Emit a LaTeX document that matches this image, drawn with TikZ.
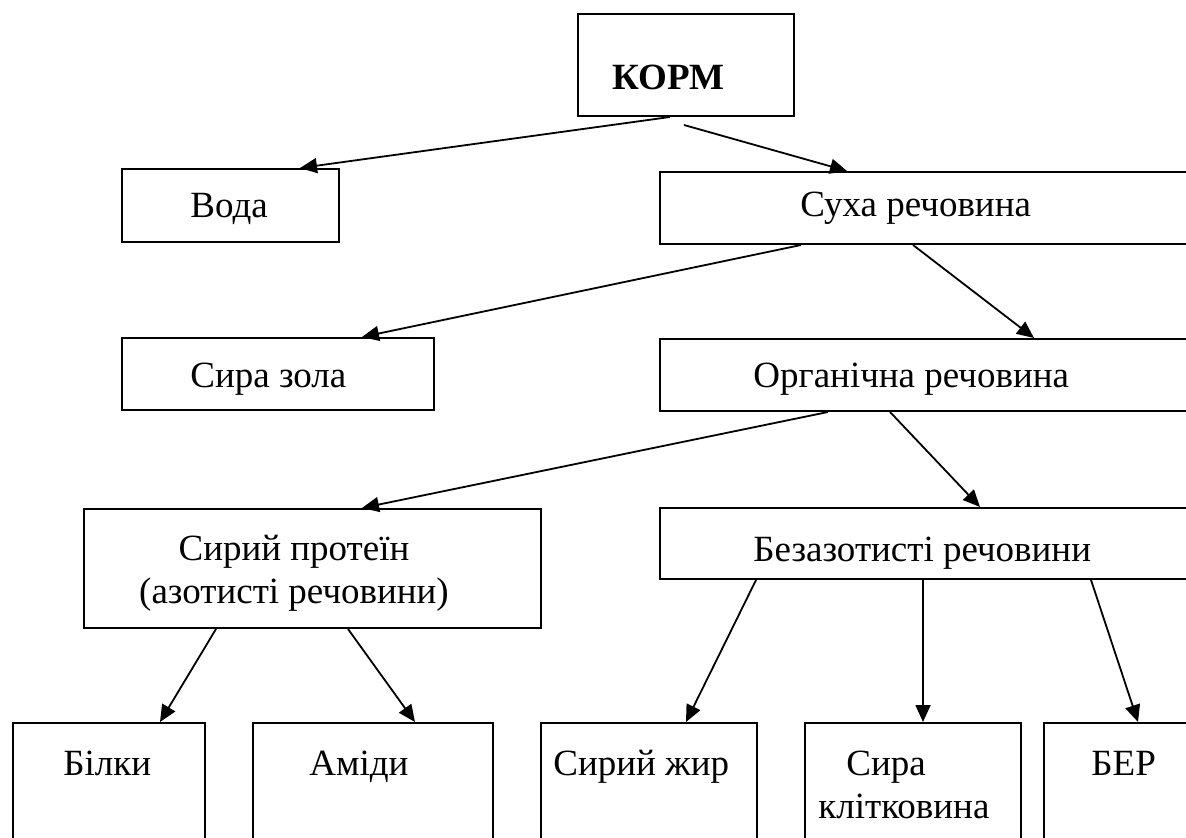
\documentclass[tikz,border=0pt]{standalone}
\usepackage{fontspec}
\setmainfont{Liberation Serif}
\usetikzlibrary{arrows.meta}

\begin{document}
\begin{tikzpicture}[
	x = 0.5pt, y = -0.5pt, % one unit = one pixel, y runs down
	> = {Triangle[length=8.5pt, width=7.5pt]}, % arrow head style
	box/.style = {draw, line width=1pt, inner sep=0pt, anchor=north west},
	txt/.style = {anchor=base west, inner sep=0pt},
	txtc/.style = {anchor=base, inner sep=0pt},
	link/.style = {->, line width=0.9pt},
	font = \fontsize{18.5}{21.5}\selectfont
	]
	
	\useasboundingbox[fill=white] (0,0) rectangle (1186,838);
	\clip (0,0) rectangle (1186,838);
	
	% boxes
	\node[box, minimum width=108pt, minimum height=51pt] (korm) at (577,13) {};
	\node[box, minimum width=108.5pt, minimum height=36.5pt] (voda) at (121,168) {};
	\node[box, minimum width=270.5pt, minimum height=36pt] (sukha) at (659,171) {};
	\node[box, minimum width=156pt, minimum height=36pt] (zola) at (121,337) {};
	\node[box, minimum width=270.5pt, minimum height=36pt] (org) at (659,338) {};
	\node[box, minimum width=228.5pt, minimum height=59.5pt] (protein) at (83,508) {};
	\node[box, minimum width=270.5pt, minimum height=35.5pt] (bezaz) at (659,507) {};
	\node[box, minimum width=96pt, minimum height=100pt] (bilky) at (12,722) {};
	\node[box, minimum width=120pt, minimum height=100pt] (amidy) at (252,722) {};
	\node[box, minimum width=108pt, minimum height=100pt] (zhyr) at (540,722) {};
	\node[box, minimum width=108pt, minimum height=100pt] (klit) at (804,722) {};
	\node[box, minimum width=80pt, minimum height=100pt] (ber) at (1043,722) {};
	
	% texts
	\node[txt] (kormt) at (612,90) {\bfseries КОРМ};
	\node[txt] (vodat) at (190,218) {Вода};
	\node[txt] (sukhat) at (800,217) {Суха речовина};
	\node[txt] (zolat) at (190,388) {Сира зола};
	\node[txt] (orgt) at (753,388) {Органічна речовина};
	\node[txtc] (proteint) at (294,560) {Сирий протеїн};
	\node[txtc] (proteint2) at (294,603) {(азотисті речовини)};
	\node[txt] (bezazt) at (753,561) {Безазотисті речовини};
	\node[txt] (bilkyt) at (63,775) {Білки};
	\node[txt] (amidyt) at (309,775) {Аміди};
	\node[txt] (zhyrt) at (553,775) {Сирий жир};
	\node[txt] (klitt) at (846,775) {Сира};
	\node[txt] (klitt2) at (818,818) {клітковина};
	\node[txt] (bert) at (1091,775) {БЕР};
	
	% arrows
	\draw[link] ([shift={(93,0)}]korm.south west) -- ([shift={(179,0)}]voda.north west);
	\draw[link] ([shift={(107,8)}]korm.south west) -- ([shift={(188,0)}]sukha.north west);
	\draw[link] ([shift={(142,0)}]sukha.south west) -- ([shift={(241,0)}]zola.north west);
	\draw[link] ([shift={(254,0)}]sukha.south west) -- ([shift={(375,0)}]org.north west);
	\draw[link] ([shift={(169,0)}]org.south west) -- ([shift={(279,0)}]protein.north west);
	\draw[link] ([shift={(231,0)}]org.south west) -- ([shift={(321,0)}]bezaz.north west);
	\draw[link] ([shift={(133,0)}]protein.south west) -- ([shift={(148,0)}]bilky.north west);
	\draw[link] ([shift={(265,0)}]protein.south west) -- ([shift={(163,0)}]amidy.north west);
	\draw[link] ([shift={(97,0)}]bezaz.south west) -- ([shift={(146,0)}]zhyr.north west);
	\draw[link] ([shift={(264,0)}]bezaz.south west) -- ([shift={(119,0)}]klit.north west);
	\draw[link] ([shift={(432,0)}]bezaz.south west) -- ([shift={(95,0)}]ber.north west);
	
\end{tikzpicture}
\end{document}
